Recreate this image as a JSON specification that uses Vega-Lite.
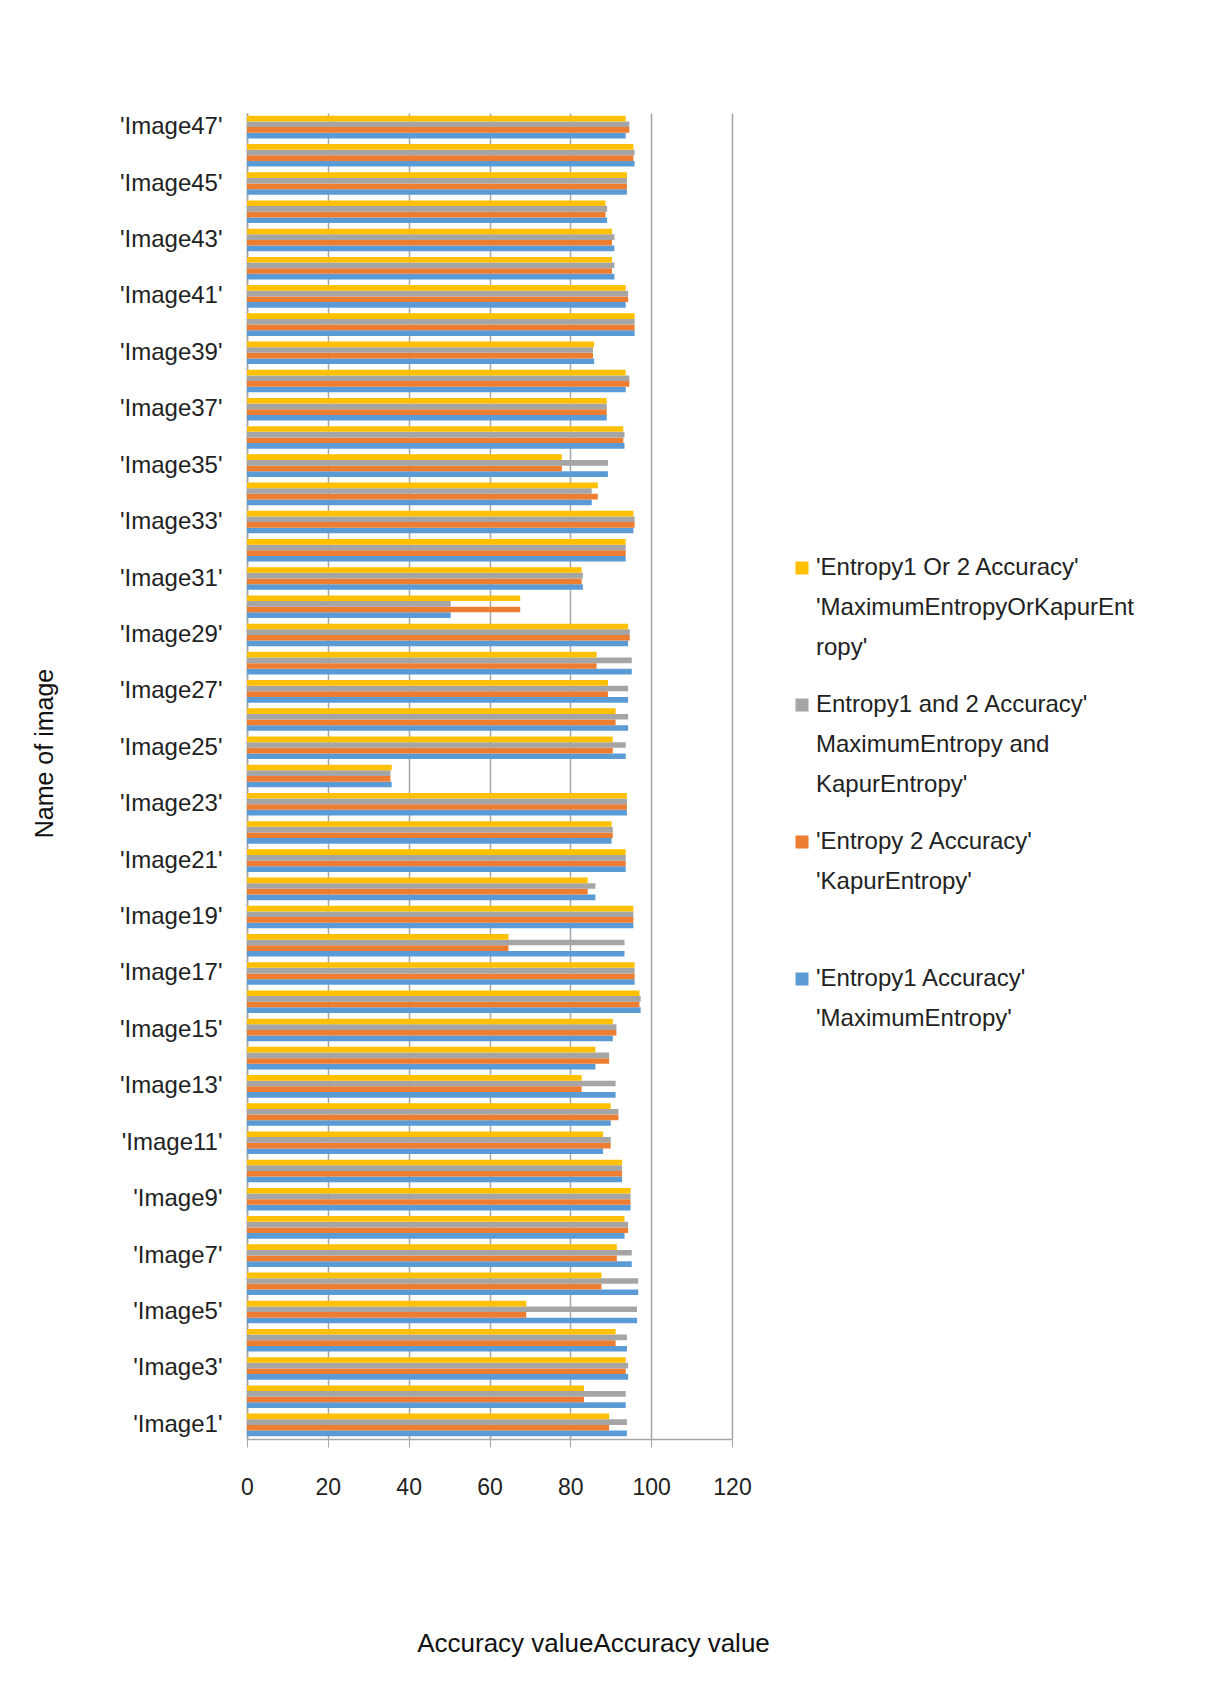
{
  "$schema": "https://vega.github.io/schema/vega-lite/v6.json",
  "width": 485,
  "height": 1326,
  "autosize": {"type": "none"},
  "padding": {"left": 247, "top": 113, "right": 489, "bottom": 245},
  "background": "white",
  "config": {"font": "Liberation Sans", "view": {"stroke": null}},
  "data": {"values": [
    {"n": 1, "image": "'Image1'", "e1": 94.0, "e2": 89.6, "e12": 94.0, "eor": 89.6},
    {"n": 2, "image": "'Image2'", "e1": 93.7, "e2": 83.4, "e12": 93.7, "eor": 83.4},
    {"n": 3, "image": "'Image3'", "e1": 94.3, "e2": 93.7, "e12": 94.3, "eor": 93.7},
    {"n": 4, "image": "'Image4'", "e1": 94.0, "e2": 91.2, "e12": 94.0, "eor": 91.2},
    {"n": 5, "image": "'Image5'", "e1": 96.5, "e2": 69.1, "e12": 96.5, "eor": 69.1},
    {"n": 6, "image": "'Image6'", "e1": 96.8, "e2": 87.7, "e12": 96.8, "eor": 87.7},
    {"n": 7, "image": "'Image7'", "e1": 95.2, "e2": 91.5, "e12": 95.2, "eor": 91.5},
    {"n": 8, "image": "'Image8'", "e1": 93.4, "e2": 94.3, "e12": 94.3, "eor": 93.4},
    {"n": 9, "image": "'Image9'", "e1": 94.9, "e2": 94.9, "e12": 94.9, "eor": 94.9},
    {"n": 10, "image": "'Image10'", "e1": 92.8, "e2": 92.8, "e12": 92.8, "eor": 92.8},
    {"n": 11, "image": "'Image11'", "e1": 88.1, "e2": 90.0, "e12": 90.0, "eor": 88.1},
    {"n": 12, "image": "'Image12'", "e1": 90.0, "e2": 91.9, "e12": 91.9, "eor": 90.0},
    {"n": 13, "image": "'Image13'", "e1": 91.2, "e2": 82.8, "e12": 91.2, "eor": 82.8},
    {"n": 14, "image": "'Image14'", "e1": 86.2, "e2": 89.6, "e12": 89.6, "eor": 86.2},
    {"n": 15, "image": "'Image15'", "e1": 90.5, "e2": 91.4, "e12": 91.4, "eor": 90.5},
    {"n": 16, "image": "'Image16'", "e1": 97.4, "e2": 97.1, "e12": 97.4, "eor": 97.1},
    {"n": 17, "image": "'Image17'", "e1": 95.9, "e2": 95.9, "e12": 95.9, "eor": 95.9},
    {"n": 18, "image": "'Image18'", "e1": 93.4, "e2": 64.7, "e12": 93.4, "eor": 64.7},
    {"n": 19, "image": "'Image19'", "e1": 95.6, "e2": 95.6, "e12": 95.6, "eor": 95.6},
    {"n": 20, "image": "'Image20'", "e1": 86.2, "e2": 84.3, "e12": 86.2, "eor": 84.3},
    {"n": 21, "image": "'Image21'", "e1": 93.7, "e2": 93.7, "e12": 93.7, "eor": 93.7},
    {"n": 22, "image": "'Image22'", "e1": 90.2, "e2": 90.5, "e12": 90.5, "eor": 90.2},
    {"n": 23, "image": "'Image23'", "e1": 94.0, "e2": 94.0, "e12": 94.0, "eor": 94.0},
    {"n": 24, "image": "'Image24'", "e1": 35.8, "e2": 35.5, "e12": 35.5, "eor": 35.8},
    {"n": 25, "image": "'Image25'", "e1": 93.7, "e2": 90.5, "e12": 93.7, "eor": 90.5},
    {"n": 26, "image": "'Image26'", "e1": 94.3, "e2": 91.2, "e12": 94.3, "eor": 91.2},
    {"n": 27, "image": "'Image27'", "e1": 94.3, "e2": 89.3, "e12": 94.3, "eor": 89.3},
    {"n": 28, "image": "'Image28'", "e1": 95.2, "e2": 86.5, "e12": 95.2, "eor": 86.5},
    {"n": 29, "image": "'Image29'", "e1": 94.3, "e2": 94.7, "e12": 94.7, "eor": 94.3},
    {"n": 30, "image": "'Image30'", "e1": 50.4, "e2": 67.6, "e12": 50.4, "eor": 67.6},
    {"n": 31, "image": "'Image31'", "e1": 83.1, "e2": 82.8, "e12": 83.1, "eor": 82.8},
    {"n": 32, "image": "'Image32'", "e1": 93.7, "e2": 93.7, "e12": 93.7, "eor": 93.7},
    {"n": 33, "image": "'Image33'", "e1": 95.6, "e2": 95.9, "e12": 95.9, "eor": 95.6},
    {"n": 34, "image": "'Image34'", "e1": 85.3, "e2": 86.8, "e12": 85.3, "eor": 86.8},
    {"n": 35, "image": "'Image35'", "e1": 89.3, "e2": 77.9, "e12": 89.3, "eor": 77.9},
    {"n": 36, "image": "'Image36'", "e1": 93.4, "e2": 93.1, "e12": 93.4, "eor": 93.1},
    {"n": 37, "image": "'Image37'", "e1": 89.0, "e2": 89.0, "e12": 89.0, "eor": 89.0},
    {"n": 38, "image": "'Image38'", "e1": 93.7, "e2": 94.6, "e12": 94.6, "eor": 93.7},
    {"n": 39, "image": "'Image39'", "e1": 85.9, "e2": 85.6, "e12": 85.6, "eor": 85.9},
    {"n": 40, "image": "'Image40'", "e1": 95.9, "e2": 95.9, "e12": 95.9, "eor": 95.9},
    {"n": 41, "image": "'Image41'", "e1": 93.7, "e2": 94.3, "e12": 94.3, "eor": 93.7},
    {"n": 42, "image": "'Image42'", "e1": 90.9, "e2": 90.3, "e12": 90.9, "eor": 90.3},
    {"n": 43, "image": "'Image43'", "e1": 90.9, "e2": 90.3, "e12": 90.9, "eor": 90.3},
    {"n": 44, "image": "'Image44'", "e1": 89.1, "e2": 88.7, "e12": 89.1, "eor": 88.7},
    {"n": 45, "image": "'Image45'", "e1": 94.0, "e2": 94.0, "e12": 94.0, "eor": 94.0},
    {"n": 46, "image": "'Image46'", "e1": 95.9, "e2": 95.6, "e12": 95.9, "eor": 95.6},
    {"n": 47, "image": "'Image47'", "e1": 93.7, "e2": 94.6, "e12": 94.6, "eor": 93.7}
  ]},
  "transform": [{"fold": ["e1", "e2", "e12", "eor"], "as": ["series", "acc"]}],
  "mark": {"type": "bar"},
  "encoding": {
    "y": {
      "field": "image",
      "type": "nominal",
      "sort": {"field": "n", "op": "max", "order": "descending"},
      "scale": {"paddingInner": 0.2, "paddingOuter": 0.1},
      "axis": {
        "title": "Name of image",
        "values": ["'Image1'", "'Image3'", "'Image5'", "'Image7'", "'Image9'", "'Image11'", "'Image13'", "'Image15'", "'Image17'", "'Image19'", "'Image21'", "'Image23'", "'Image25'", "'Image27'", "'Image29'", "'Image31'", "'Image33'", "'Image35'", "'Image37'", "'Image39'", "'Image41'", "'Image43'", "'Image45'", "'Image47'"],
        "labelFontSize": 24,
        "labelColor": "#222222",
        "labelPadding": 25,
        "ticks": false,
        "domainColor": "#a6a6a6",
        "domainWidth": 1.5,
        "titleFontSize": 25,
        "titleFontWeight": "normal",
        "titleColor": "#111111",
        "titleX": -190,
        "titleY": 640
      }
    },
    "yOffset": {"field": "series", "scale": {"domain": ["eor", "e12", "e2", "e1"]}},
    "x": {
      "field": "acc",
      "type": "quantitative",
      "scale": {"domain": [0, 120], "nice": false},
      "axis": {
        "values": [0, 20, 40, 60, 80, 100, 120],
        "grid": true,
        "gridColor": "#a6a6a6",
        "gridWidth": 1.5,
        "domainColor": "#a6a6a6",
        "domainWidth": 1.5,
        "tickColor": "#a6a6a6",
        "tickSize": 8,
        "labelFlush": false,
        "labelFontSize": 23,
        "labelColor": "#222222",
        "labelPadding": 29,
        "title": "Accuracy valueAccuracy value",
        "titleFontSize": 26,
        "titleFontWeight": "normal",
        "titleColor": "#111111",
        "titleX": 346,
        "titleY": 204,
        "titleAlign": "center",
        "titleBaseline": "middle"
      }
    },
    "color": {
      "field": "series",
      "type": "nominal",
      "scale": {"domain": ["eor", "e12", "e2", "e1"], "range": ["#ffc000", "#a5a5a5", "#ed7d31", "#5b9bd5"]},
      "legend": {
        "title": null,
        "orient": "none",
        "legendX": 543,
        "legendY": 443,
        "padding": 0,
        "symbolType": "square",
        "symbolSize": 169,
        "symbolStrokeWidth": 0,
        "labelFontSize": 24,
        "labelColor": "#222222",
        "labelLimit": 440,
        "labelOffset": 2,
        "rowPadding": 33,
        "encode": {"labels": {"update": {"lineHeight": {"value": 40}}}},
        "labelExpr": "datum.value == 'eor' ? [\"'Entropy1 Or 2 Accuracy'\", \"'MaximumEntropyOrKapurEnt\", \"ropy'\"] : datum.value == 'e12' ? [\"Entropy1 and 2 Accuracy'\", \"MaximumEntropy and\", \"KapurEntropy'\"] : datum.value == 'e2' ? [\"'Entropy 2 Accuracy'\", \"'KapurEntropy'\", \" \"] : [\"'Entropy1 Accuracy'\", \"'MaximumEntropy'\", \" \"]"
      }
    }
  }
}
